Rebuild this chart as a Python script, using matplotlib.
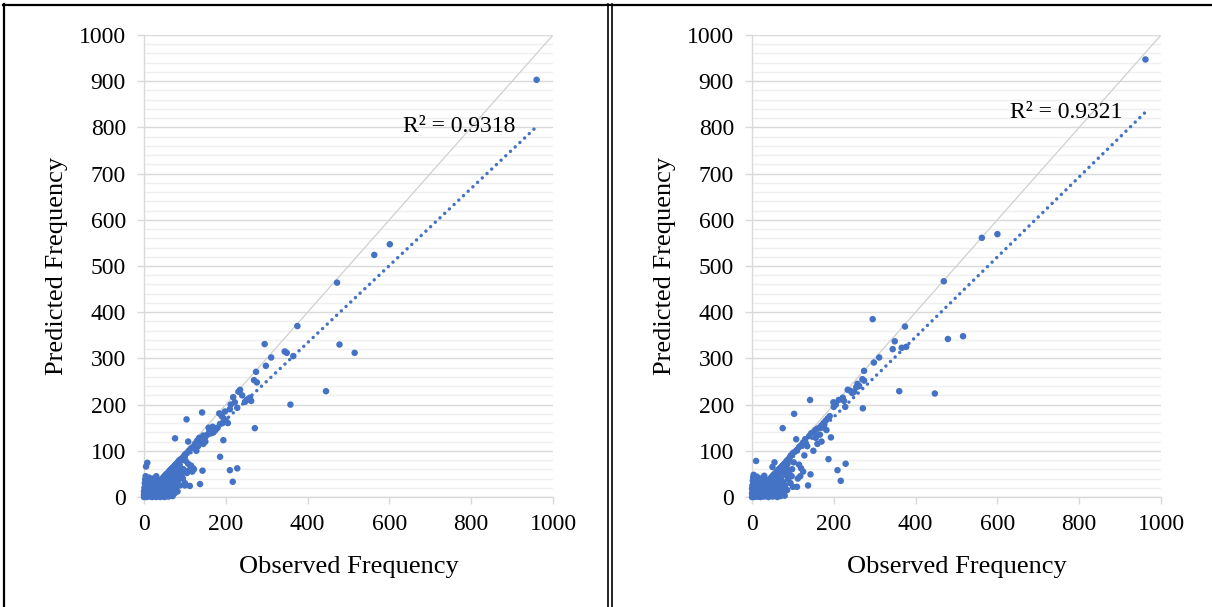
import matplotlib
matplotlib.use("Agg")
import matplotlib.pyplot as plt
from matplotlib.lines import Line2D
from matplotlib.ticker import MultipleLocator

# ---------------- data ----------------
# (observed, predicted) pairs
left_points = [
    (960, 903), (601, 547), (563, 524), (472, 464), (478, 330), (515, 312), (445, 229),
    (358, 200), (375, 370), (295, 331), (344, 315), (349, 312), (365, 305), (311, 302),
    (298, 284), (274, 271), (269, 253), (276, 248), (235, 232), (231, 228), (218, 216),
    (259, 215), (251, 210), (247, 206), (210, 190), (228, 193), (271, 149), (184, 181),
    (190, 175), (195, 170), (200, 165), (205, 160), (186, 158), (180, 150), (175, 145),
    (170, 140), (165, 138), (160, 142), (155, 135), (150, 130), (145, 133), (140, 125),
    (142, 183), (104, 168), (76, 127), (194, 123), (108, 120), (135, 128), (145, 115),
    (150, 120), (186, 87), (210, 58), (228, 62), (217, 33), (137, 28), (143, 57),
    (110, 58), (118, 55), (122, 60), (105, 52), (100, 25), (112, 24), (8, 74), (5, 66),
    (130, 122), (125, 115), (120, 108), (115, 105), (110, 100), (105, 95), (100, 92),
    (98, 88), (95, 85), (102, 78), (108, 72), (115, 68), (120, 62), (95, 60), (90, 55),
    (88, 65), (92, 45), (85, 38), (78, 30), (72, 22), (255, 212), (262, 208), (240, 220),
    (222, 205), (212, 200), (198, 185), (192, 160), (168, 152), (158, 150), (148, 128),
    (138, 118), (132, 110), (128, 100),
]
left_cluster = [
    (0, 0), (1, 1), (2, 2), (4, 3), (6, 5), (8, 7), (10, 9), (12, 10), (14, 12), (16, 14),
    (18, 16), (20, 18), (22, 19), (24, 21), (26, 23), (28, 25), (30, 27), (32, 28),
    (34, 30), (36, 32), (38, 34), (40, 36), (42, 38), (44, 39), (46, 41), (48, 43),
    (50, 45), (52, 47), (54, 49), (56, 50), (58, 52), (60, 54), (62, 56), (64, 58),
    (66, 60), (68, 62), (70, 63), (72, 65), (74, 67), (76, 69), (78, 71), (80, 72),
    (82, 74), (84, 77), (86, 79), (88, 80), (90, 82),
    (5, 0), (8, 1), (10, 2), (12, 4), (15, 1), (15, 6), (18, 3), (18, 9), (20, 0), (20, 5),
    (22, 11), (24, 2), (25, 8), (26, 14), (28, 4), (30, 0), (30, 10), (30, 18), (32, 6),
    (33, 14), (35, 2), (35, 20), (36, 9), (38, 16), (40, 0), (40, 5), (40, 24), (42, 12),
    (43, 20), (45, 3), (45, 28), (46, 8), (48, 15), (48, 32), (50, 0), (50, 22), (52, 10),
    (52, 36), (54, 4), (55, 27), (56, 16), (57, 38), (58, 8), (60, 1), (60, 20), (60, 42),
    (62, 30), (63, 12), (65, 5), (65, 45), (66, 24), (68, 35), (70, 2), (70, 15), (70, 48),
    (72, 28), (74, 40), (75, 8), (76, 52), (78, 20), (80, 35), (80, 58), (82, 12), (84, 45),
    (85, 62), (88, 25), (90, 50), (95, 40), (96, 60), (100, 30), (75, 30), (68, 10),
    (55, 2), (45, 12),
    (0, 5), (0, 12), (1, 20), (2, 30), (3, 38), (4, 45), (5, 15), (6, 25), (8, 35),
    (10, 20), (12, 42), (14, 30), (16, 22), (18, 36), (20, 28), (22, 40), (25, 32),
    (28, 38), (30, 45), (3, 8), (1, 3), (2, 10), (7, 40),
    (9, 4), (11, 6), (15, 10), (19, 13), (24, 18), (27, 21), (33, 26), (37, 30), (41, 33),
    (47, 38), (53, 44), (58, 48), (63, 50), (67, 55), (71, 58), (77, 62), (83, 66),
    (87, 70), (62, 40), (66, 46), (58, 30), (52, 40), (44, 33), (36, 25), (28, 18),
    (20, 12), (12, 7), (6, 3), (3, 1), (14, 6), (38, 26),
]

right_points = [
    (962, 947), (600, 569), (562, 561), (469, 467), (479, 342), (516, 348), (447, 224),
    (360, 229), (295, 385), (374, 369), (349, 337), (344, 320), (366, 323), (377, 325),
    (311, 302), (298, 291), (274, 273), (270, 255), (274, 252), (258, 245), (262, 240),
    (255, 238), (234, 232), (240, 230), (245, 225), (250, 228), (222, 215), (225, 208),
    (228, 195), (271, 192), (199, 205), (200, 195), (142, 210), (103, 180), (75, 149),
    (190, 175), (185, 170), (180, 165), (175, 160), (170, 155), (165, 150), (160, 148),
    (155, 145), (150, 140), (145, 138), (140, 132), (193, 129), (108, 125), (187, 82),
    (209, 58), (229, 72), (217, 35), (143, 49), (137, 25), (115, 70), (120, 62), (125, 55),
    (100, 22), (110, 22), (10, 78), (50, 65), (55, 75), (130, 125), (125, 118), (120, 112),
    (115, 108), (110, 102), (105, 98), (100, 95), (135, 110), (150, 100), (160, 115),
    (170, 120), (95, 90), (92, 85), (88, 80), (98, 60), (102, 75), (118, 45), (128, 90),
    (112, 40), (90, 50), (85, 62), (80, 70), (205, 200), (212, 210), (182, 145), (176, 150),
    (166, 135), (156, 128),
]
right_cluster = [
    (0, 0), (1, 1), (2, 2), (4, 3), (6, 5), (8, 7), (10, 9), (12, 10), (14, 12), (16, 14),
    (18, 16), (20, 18), (22, 19), (24, 21), (26, 23), (28, 25), (30, 27), (32, 28),
    (34, 30), (36, 32), (38, 34), (40, 36), (42, 38), (44, 39), (46, 41), (48, 43),
    (50, 45), (52, 47), (54, 49), (56, 50), (58, 52), (60, 54), (62, 56), (64, 58),
    (66, 60), (68, 62), (70, 63), (72, 65), (74, 67), (76, 69), (78, 71), (80, 72),
    (82, 74), (84, 77), (86, 79), (88, 80), (90, 82),
    (4, 0), (7, 2), (10, 1), (13, 5), (15, 8), (16, 2), (18, 11), (19, 4), (21, 0),
    (22, 14), (23, 7), (25, 18), (26, 3), (27, 10), (29, 1), (30, 22), (31, 6), (32, 15),
    (34, 25), (35, 2), (36, 12), (37, 28), (39, 8), (40, 0), (41, 19), (42, 30), (43, 5),
    (44, 14), (45, 34), (46, 3), (48, 24), (49, 10), (50, 38), (51, 1), (52, 18), (53, 40),
    (54, 6), (55, 30), (56, 12), (57, 42), (58, 4), (60, 22), (61, 46), (62, 0), (63, 35),
    (64, 15), (65, 48), (66, 8), (67, 27), (68, 52), (70, 2), (71, 40), (72, 18), (74, 55),
    (75, 10), (76, 32), (78, 60), (80, 3), (81, 25), (82, 48), (84, 62), (86, 15), (88, 38),
    (90, 58), (94, 30), (97, 45), (65, 5), (58, 12), (48, 2), (38, 8),
    (0, 8), (0, 18), (1, 25), (2, 35), (3, 42), (4, 48), (5, 15), (6, 28), (8, 38),
    (10, 22), (12, 44), (14, 30), (16, 24), (18, 36), (20, 30), (22, 40), (25, 34),
    (28, 42), (30, 46), (3, 10), (1, 4), (2, 12), (7, 38),
    (9, 5), (11, 7), (15, 11), (19, 14), (24, 19), (27, 22), (33, 27), (37, 31), (41, 35),
    (47, 40), (53, 45), (59, 49), (63, 52), (67, 57), (71, 60), (77, 64), (83, 68),
    (87, 72), (60, 36), (66, 45), (52, 28), (44, 38), (36, 30), (28, 24), (20, 17),
    (12, 10), (6, 6), (3, 2), (14, 1), (38, 5), (32, 22), (26, 18),
]

trend_slope = [0.835, 0.866]
trend_intercept = [0.0, 0.0]
trend_xmax = [960, 962]
r2_labels = ["R² = 0.9318", "R² = 0.9321"]
r2_pos = [(907, 801), (905, 833)]

xtick_values = [0, 200, 400, 600, 800, 1000]
ytick_values = [0, 100, 200, 300, 400, 500, 600, 700, 800, 900, 1000]
x_label = "Observed Frequency"
y_label = "Predicted Frequency"

# ---------------- drawing ----------------
plt.rcParams['font.family'] = ['Liberation Serif', 'DejaVu Serif']
W, H = 1212, 607
fig = plt.figure(figsize=(W / 100, H / 100), dpi=100)

blue = '#4472C4'
axes_px = [(144, 35, 409, 462), (752, 35, 409, 462)]
panels = [left_points + left_cluster, right_points + right_cluster]

for i, (px, py, pw, ph) in enumerate(axes_px):
    ax = fig.add_axes([px / W, 1 - (py + ph) / H, pw / W, ph / H])
    xs, ys = zip(*panels[i])
    ax.set_xlim(0, 1000)
    ax.set_ylim(0, 1000)
    ax.set_xticks(xtick_values)
    ax.set_yticks(ytick_values)
    ax.yaxis.set_minor_locator(MultipleLocator(20))
    ax.grid(which='major', axis='y', color='#d9d9d9', lw=1.0, zorder=0)
    ax.grid(which='minor', axis='y', color='#efefef', lw=1.0, zorder=0)
    for s in ['top', 'right']:
        ax.spines[s].set_visible(False)
    for s in ['left', 'bottom']:
        ax.spines[s].set_color('#d9d9d9')
        ax.spines[s].set_linewidth(1.0)
    ax.tick_params(which='major', length=5, color='#d9d9d9', width=1.0,
                   labelsize=17)
    ax.tick_params(axis='x', pad=7)
    ax.tick_params(axis='y', pad=8)
    ax.tick_params(which='minor', length=0)
    ax.set_axisbelow(True)
    # y = x reference line
    ax.plot([0, 1000], [0, 1000], color='#d0d0d0', lw=0.9, zorder=1)
    # scatter
    ax.scatter(xs, ys, s=22, color=blue, edgecolors='none', zorder=3, clip_on=False)
    # trendline
    tx = [0, trend_xmax[i]]
    ty = [trend_intercept[i] + trend_slope[i] * v for v in tx]
    ax.plot(tx, ty, color=blue, lw=2.5, linestyle=(0, (0.01, 1.85)),
            dash_capstyle='round', zorder=2)
    ax.text(r2_pos[i][0], r2_pos[i][1], r2_labels[i], ha='right', va='center',
            fontsize=17, zorder=4)
    ax.set_xlabel(x_label, fontsize=19, labelpad=15)
    ax.set_ylabel(y_label, fontsize=19, labelpad=8)

# frame borders
def vline(x, lw):
    fig.add_artist(Line2D([x / W, x / W], [0, 1 - 4 / H], color='black', lw=lw,
                          transform=fig.transFigure))

fig.add_artist(Line2D([3 / W, 1], [1 - 5 / H, 1 - 5 / H], color='black', lw=1.6,
                      transform=fig.transFigure))
vline(4, 1.6)
vline(608.3, 1.2)
vline(611.5, 1.2)

fig.savefig('out.png', dpi=100)
